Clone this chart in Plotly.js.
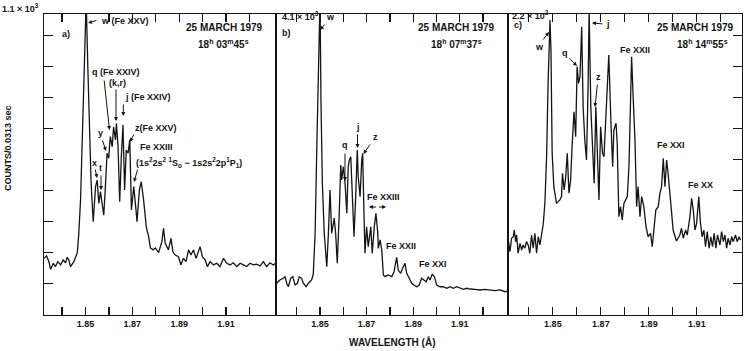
<!DOCTYPE html>
<html>
<head>
<meta charset="utf-8">
<script src="https://cdn.plot.ly/plotly-3.0.1.min.js"></script>
<style>
html, body { margin: 0; padding: 0; background: #fff; }
#grafico { width: 747px; height: 351px; }
</style>
</head>
<body>
<div id="grafico"></div>
<script>
// a) 25 March 1979, 18h 03m 45s  (full scale 1.1e3 counts)
const waveA = [1.8323, 1.8334, 1.8344, 1.8351, 1.8363, 1.8372, 1.8382, 1.8394, 1.8405, 1.8415,
    1.8422, 1.8429, 1.8436, 1.8450, 1.8465, 1.8471, 1.8479, 1.8486, 1.8493, 1.8500,
    1.8503, 1.8510, 1.8517, 1.8524, 1.8533, 1.8543, 1.8550, 1.8557, 1.8564, 1.8571,
    1.8578, 1.8585, 1.8592, 1.8599, 1.8606, 1.8614, 1.8620, 1.8628, 1.8632, 1.8639,
    1.8646, 1.8653, 1.8660, 1.8667, 1.8674, 1.8682, 1.8689, 1.8696, 1.8706, 1.8713,
    1.8720, 1.8730, 1.8738, 1.8748, 1.8752, 1.8760, 1.8769, 1.8777, 1.8788, 1.8798,
    1.8812, 1.8826, 1.8833, 1.8840, 1.8854, 1.8865, 1.8873, 1.8883, 1.8897, 1.8907,
    1.8918, 1.8929, 1.8940, 1.8950, 1.8961, 1.8972, 1.8989, 1.8999, 1.9011, 1.9020,
    1.9032, 1.9046, 1.9060, 1.9074, 1.9089, 1.9103, 1.9117, 1.9131, 1.9146, 1.9160,
    1.9174, 1.9188, 1.9202, 1.9216, 1.9231, 1.9245, 1.9259, 1.9273, 1.9287, 1.9301, 1.9313];
const countsA = [207, 216, 195, 167, 189, 177, 195, 183, 201, 191,
    211, 201, 177, 194, 227, 292, 420, 665, 907, 1150,
    1150, 907, 665, 482, 341, 469, 493, 408, 451, 396,
    365, 469, 591, 573, 652, 615, 688, 640, 701, 615,
    414, 579, 694, 457, 603, 591, 640, 384, 469, 408,
    341, 457, 487, 420, 376, 318, 289, 245, 238, 245,
    228, 268, 317, 263, 238, 280, 231, 219, 213, 183,
    207, 195, 238, 219, 238, 207, 250, 213, 201, 177,
    195, 183, 189, 177, 207, 189, 183, 191, 177, 189,
    183, 177, 189, 183, 186, 179, 195, 177, 191, 183, 189];

// b) 18h 07m 37s  (full scale 4.1e3 counts)
const waveB = [1.8314, 1.8328, 1.8342, 1.8350, 1.8357, 1.8364, 1.8374, 1.8383, 1.8393, 1.8403,
    1.8411, 1.8421, 1.8428, 1.8440, 1.8450, 1.8464, 1.8471, 1.8479, 1.8486, 1.8493,
    1.8497, 1.8500, 1.8504, 1.8510, 1.8518, 1.8529, 1.8536, 1.8543, 1.8550, 1.8557,
    1.8561, 1.8567, 1.8574, 1.8582, 1.8589, 1.8593, 1.8600, 1.8607, 1.8615, 1.8621,
    1.8626, 1.8632, 1.8639, 1.8646, 1.8653, 1.8660, 1.8664, 1.8672, 1.8679, 1.8683,
    1.8689, 1.8693, 1.8700, 1.8707, 1.8718, 1.8724, 1.8733, 1.8740, 1.8748, 1.8750,
    1.8758, 1.8765, 1.8772, 1.8779, 1.8793, 1.8808, 1.8818, 1.8829, 1.8836, 1.8846,
    1.8855, 1.8865, 1.8872, 1.8883, 1.8894, 1.8903, 1.8915, 1.8926, 1.8936, 1.8946,
    1.8955, 1.8965, 1.8972, 1.8982, 1.8991, 1.9001, 1.9015, 1.9029, 1.9044, 1.9058,
    1.9072, 1.9087, 1.9101, 1.9115, 1.9130, 1.9144, 1.9165, 1.9187, 1.9208, 1.9230,
    1.9251, 1.9273, 1.9294, 1.9308];
const countsB = [432, 477, 500, 522, 432, 385, 500, 522, 409, 432,
    522, 500, 432, 385, 432, 477, 558, 1113, 2247, 3610,
    4300, 4300, 2929, 1798, 1117, 658, 1113, 1703, 1113, 1294,
    1321, 1113, 704, 1339, 2043, 1839, 2020, 1816, 1385, 2020,
    2111, 2156, 1566, 1067, 1611, 2247, 1884, 1611, 2111, 2203,
    1339, 840, 1203, 930, 1203, 840, 1203, 1385, 1113, 909,
    1022, 885, 545, 522, 545, 522, 590, 786, 613, 568,
    640, 704, 568, 500, 432, 409, 385, 409, 500, 477,
    454, 522, 477, 558, 522, 409, 385, 385, 364, 385,
    364, 385, 364, 350, 364, 354, 350, 341, 350, 341,
    331, 341, 317, 327];

// c) 18h 14m 55s  (full scale 2.2e2 counts)
const waveC = [1.8314, 1.8321, 1.8328, 1.8335, 1.8339, 1.8345, 1.8349, 1.8355, 1.8363, 1.8370,
    1.8376, 1.8383, 1.8390, 1.8397, 1.8404, 1.8411, 1.8418, 1.8425, 1.8432, 1.8439,
    1.8446, 1.8453, 1.8460, 1.8467, 1.8474, 1.8480, 1.8488, 1.8492, 1.8497, 1.8504,
    1.8515, 1.8529, 1.8536, 1.8540, 1.8547, 1.8553, 1.8560, 1.8567, 1.8574, 1.8580,
    1.8588, 1.8595, 1.8601, 1.8607, 1.8613, 1.8620, 1.8626, 1.8633, 1.8640, 1.8647,
    1.8651, 1.8658, 1.8665, 1.8672, 1.8679, 1.8686, 1.8692, 1.8699, 1.8707, 1.8713,
    1.8720, 1.8726, 1.8733, 1.8742, 1.8749, 1.8754, 1.8763, 1.8768, 1.8775, 1.8782,
    1.8789, 1.8796, 1.8803, 1.8810, 1.8817, 1.8821, 1.8828, 1.8835, 1.8842, 1.8849,
    1.8855, 1.8863, 1.8870, 1.8879, 1.8888, 1.8897, 1.8907, 1.8914, 1.8921, 1.8929,
    1.8939, 1.8946, 1.8953, 1.8960, 1.8967, 1.8974, 1.8980, 1.8988, 1.8995, 1.9001,
    1.9015, 1.9029, 1.9036, 1.9043, 1.9053, 1.9060, 1.9071, 1.9078, 1.9085, 1.9092,
    1.9099, 1.9108, 1.9115, 1.9122, 1.9129, 1.9136, 1.9143, 1.9151, 1.9158, 1.9165,
    1.9172, 1.9179, 1.9186, 1.9196, 1.9203, 1.9210, 1.9217, 1.9224, 1.9230, 1.9238,
    1.9245, 1.9251, 1.9261, 1.9268, 1.9276, 1.9282];
const countsC = [54.8, 46.3, 56.1, 57.2, 62.1, 53.6, 58.5, 45.1, 52.4, 47.5,
    51.2, 48.8, 53.6, 51.2, 45.1, 58.5, 48.8, 59.7, 45.1, 57.2,
    51.2, 60.9, 66.5, 82.8, 117, 169.3, 215.6, 193.7, 118.2, 93.8,
    81.6, 84.1, 86.5, 103.6, 91.4, 99.9, 118.2, 89.0, 98.7, 123.0,
    148.6, 130.3, 181.5, 169.3, 174.2, 210.7, 152.2, 127.9, 113.3, 169.3,
    222.9, 152.2, 123.0, 96.3, 152.2, 113.3, 84.1, 137.6, 118.2, 115.7,
    142.5, 162.0, 190.0, 140.1, 108.4, 135.2, 140.1, 125.5, 71.8, 79.2,
    69.4, 81.6, 84.1, 86.5, 108.4, 144.9, 188.8, 157.1, 127.9, 79.2,
    93.8, 71.8, 86.5, 79.2, 64.5, 57.2, 59.7, 49.9, 64.5, 76.7,
    79.2, 89.0, 93.8, 114.5, 93.8, 113.3, 103.6, 84.1, 74.3, 62.1,
    54.1, 58.5, 63.4, 56.1, 62.1, 58.5, 71.8, 85.3, 76.7, 62.1,
    67.0, 86.5, 67.0, 57.2, 62.1, 49.9, 60.9, 48.8, 57.2, 49.9,
    59.7, 48.8, 58.5, 51.2, 60.9, 53.6, 58.5, 48.8, 56.1, 51.2,
    57.2, 53.6, 58.5, 53.6, 57.2, 54.8];

const fullScale = [1100, 4100, 220];
const tickVals = [1.84, 1.85, 1.86, 1.87, 1.88, 1.89, 1.90, 1.91, 1.92];
const tickText = ['', '1.85', '', '1.87', '', '1.89', '', '1.91', ''];

const W = 747, TOP = 14, BOT = 315;
const INK = '#141414';
const FONT = 'Liberation Sans, Arial, Helvetica, sans-serif';

// pixel -> paper helpers for labels
function lbl(px, py, text, size, anchor) {
    return {
        xref: 'paper', yref: 'paper', x: px / W, y: (BOT - py) / (BOT - TOP),
        text: text, showarrow: false, xanchor: anchor || 'center', yanchor: 'middle',
        font: { family: FONT, size: size || 9, color: INK, weight: 'bold' }
    };
}
function flecha(hx, hy, tx, ty) {
    return {
        xref: 'paper', yref: 'paper', x: hx / W, y: (BOT - hy) / (BOT - TOP),
        ax: tx - hx, ay: ty - hy, text: '', showarrow: true,
        arrowhead: 2, arrowsize: 0.8, arrowwidth: 1, arrowcolor: INK
    };
}

function ejeX(dom, rango, anchor) {
    return {
        domain: dom, range: rango, anchor: anchor,
        tickvals: tickVals, ticktext: tickText, ticks: 'inside', ticklen: 8, tickwidth: 1.2,
        tickcolor: INK, showline: true, linecolor: INK, linewidth: 1.3, mirror: 'ticks',
        showgrid: false, zeroline: false,
        tickfont: { family: FONT, size: 9, color: INK, weight: 'bold' }
    };
}
function ejeY(anchor, top, conTicks, lado) {
    return {
        domain: [0, 1], range: [0, top], anchor: anchor, side: lado || 'left',
        ticks: conTicks ? 'inside' : '', ticklen: 9, tickwidth: 1.2, tickcolor: INK,
        tick0: 0, dtick: top * 31.1 / 301,
        showticklabels: false, showline: true, linecolor: INK, linewidth: 1.3, mirror: true,
        showgrid: false, zeroline: false
    };
}

const linea = { color: INK, width: 1.3 };
const trazas = [
    { x: waveA, y: countsA, xaxis: 'x', yaxis: 'y', mode: 'lines', line: linea, hoverinfo: 'skip' },
    { x: waveB, y: countsB, xaxis: 'x2', yaxis: 'y2', mode: 'lines', line: linea, hoverinfo: 'skip' },
    { x: waveC, y: countsC, xaxis: 'x3', yaxis: 'y3', mode: 'lines', line: linea, hoverinfo: 'skip' }
];

const notas = [
    // panel a
    lbl(20, 8, '1.1 × 10<sup>3</sup>', 9),
    lbl(60, 34, 'a)', 9, 'left'),
    lbl(99, 21, 'w (Fe XXV)', 9, 'left'), flecha(88, 23, 98, 20),
    lbl(224, 28, '25 MARCH 1979', 10),
    lbl(223, 44, '18<sup>h</sup> 03<sup>m</sup>45<sup>s</sup>', 10),
    lbl(90, 72, 'q (Fe XXIV)', 9, 'left'), flecha(109.5, 130, 104, 79),
    lbl(117, 83, '(k,r)', 9), flecha(116, 121, 116, 88),
    lbl(123, 97, 'j (Fe XXIV)', 9, 'left'), flecha(123.3, 116, 123.3, 103),
    lbl(100, 133, 'y', 9), flecha(106, 151, 102, 139),
    lbl(133, 128, 'z(Fe XXV)', 9, 'left'), flecha(130, 142, 134.5, 133),
    lbl(138, 147, 'Fe XXIII', 9, 'left'),
    lbl(134, 162, '(1s<sup>2</sup>2s<sup>2</sup> <sup>1</sup>S<sub>o</sub> − 1s2s<sup>2</sup>2p<sup>1</sup>P<sub>1</sub>)', 9, 'left'),
    flecha(134, 182, 138, 168),
    lbl(94, 163, 'x', 9), flecha(97, 178, 95, 168),
    lbl(101, 168, 't', 9), flecha(101, 190, 101, 174),
    // panel b
    lbl(280, 16, '4.1 × 10<sup>3</sup>', 9, 'left'),
    lbl(280, 33, 'b)', 9, 'left'),
    lbl(330, 17, 'w', 9), flecha(320, 30, 326, 23),
    lbl(456, 28, '25 MARCH 1979', 10),
    lbl(457, 44, '18<sup>h</sup> 07<sup>m</sup>37<sup>s</sup>', 10),
    lbl(344.5, 145, 'q', 9), flecha(345, 181, 345, 152),
    lbl(358, 127, 'j', 9), flecha(357.5, 148, 357.5, 133),
    lbl(375, 137, 'z', 9), flecha(363.5, 154, 371, 143),
    lbl(383, 197, 'Fe XXIII', 9),
    flecha(369, 207, 377.5, 207), flecha(386, 207, 377.5, 207),
    lbl(401, 246, 'Fe XXII', 9),
    lbl(433, 264, 'Fe XXI', 9),
    // panel c
    lbl(510, 15, '2.2 × 10<sup>2</sup>', 9, 'left'),
    lbl(512, 25, 'c)', 9, 'left'),
    lbl(539.5, 47, 'w', 9), flecha(549, 32, 542, 41),
    lbl(565, 53, 'q', 9), flecha(577, 66, 568, 57),
    lbl(608, 24, 'j', 9), flecha(592, 23, 604, 24),
    lbl(598.5, 77, 'z', 9), flecha(595, 107, 597.5, 83),
    lbl(635, 50, 'Fe XXII', 9),
    lbl(671, 145, 'Fe XXI', 9),
    lbl(700, 185, 'Fe XX', 9),
    lbl(695, 28, '25 MARCH 1979', 10),
    lbl(702, 44, '18<sup>h</sup> 14<sup>m</sup>55<sup>s</sup>', 10),
    // axis titles
    Object.assign(lbl(8, 148, 'COUNTS/0.0313 sec', 9), { textangle: -90 }),
    lbl(392, 342, 'WAVELENGTH (Å)', 10)
];

const layout = {
    width: 747, height: 351,
    margin: { l: 0, r: 0, t: TOP, b: 351 - BOT },
    paper_bgcolor: '#fff', plot_bgcolor: '#fff',
    showlegend: false,
    xaxis: ejeX([44 / W, 276 / W], [1.8323, 1.9313], 'y'),
    xaxis2: ejeX([276 / W, 508 / W], [1.8311, 1.9307], 'y2'),
    xaxis3: ejeX([508 / W, 742 / W], [1.8313, 1.9288], 'y3'),
    yaxis: ejeY('x', fullScale[0], true, 'left'),
    yaxis2: ejeY('x2', fullScale[1], false, 'left'),
    yaxis3: ejeY('x3', fullScale[2], true, 'right'),
    annotations: notas
};

Plotly.newPlot('grafico', trazas, layout, { staticPlot: true, displayModeBar: false });
</script>
</body>
</html>
